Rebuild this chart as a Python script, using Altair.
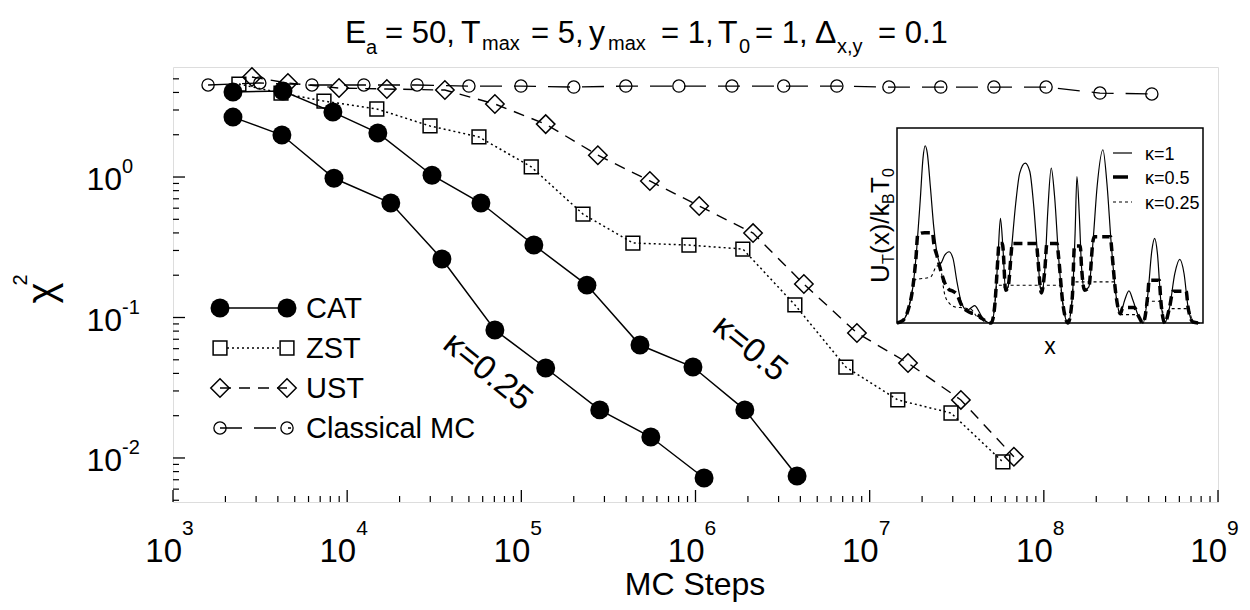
import altair as alt
import pandas as pd

# ---------------- main data ----------------
cat025_x = [2210, 4220, 8400, 17800, 35000, 70500, 138000, 282000, 554000, 1120000]
cat025_y = [2.67, 1.99, 0.98, 0.653, 0.261, 0.0815, 0.0437, 0.0220, 0.0141, 0.0072]
cat05_x = [2210, 4280, 8280, 15000, 30700, 58600, 118000, 238000, 480000, 967000, 1920000, 3830000]
cat05_y = [4.03, 4.09, 2.90, 2.06, 1.03, 0.653, 0.328, 0.170, 0.0637, 0.0444, 0.0220, 0.00745]
zst_x = [2390, 4170, 7360, 14800, 29900, 57100, 114000, 226000, 437000, 917000,
         1870000, 3720000, 7300000, 14500000, 29300000, 58200000]
zst_y = [4.59, 3.96, 3.47, 3.05, 2.31, 1.93, 1.18, 0.545, 0.339, 0.328,
         0.307, 0.123, 0.0444, 0.0259, 0.0209, 0.00937]
ust_x = [2840, 4570, 8980, 16900, 36400, 70500, 138000, 275000, 547000, 1050000,
         2140000, 4190000, 8450000, 16600000, 33400000, 67300000]
ust_y = [5.15, 4.67, 4.30, 4.23, 4.16, 3.31, 2.38, 1.43, 0.937, 0.622,
         0.399, 0.173, 0.0776, 0.0474, 0.0259, 0.0102]
mc_x = [1590, 3150, 6280, 12470, 25200, 50000, 99500, 200000, 398000, 803000,
        1620000, 3210000, 6480000, 12900000, 25600000, 51700000, 103000000, 210000000, 417000000]
mc_y = [4.52, 4.67, 4.52, 4.52, 4.52, 4.44, 4.44, 4.37, 4.44, 4.44,
        4.44, 4.44, 4.44, 4.37, 4.37, 4.37, 4.37, 3.96, 3.90]

x_major = [1e3, 1e4, 1e5, 1e6, 1e7, 1e8, 1e9]
x_exp = ["3", "4", "5", "6", "7", "8", "9"]
y_major = [1.0, 0.1, 0.01]
y_exp = ["0", "-1", "-2"]
x_minor = [k * 10.0 ** e for e in range(3, 9) for k in range(2, 10)]
y_minor = [k * 10.0 ** e for e in range(-3, 1) for k in range(2, 10) if 0.0049 < k * 10.0 ** e < 6.0]

kappa_labels = ["κ=0.25", "κ=0.5"]
kappa_lab_x = [64000, 2050000]
kappa_lab_y = [0.041, 0.060]

# ---------------- inset data (arbitrary units) ----------------
k1_x = [0, 0.20, 0.36, 0.52, 0.65, 0.76, 0.85, 0.92, 0.99, 1.09, 1.20, 1.31, 1.42, 1.56, 1.70, 1.83,
        1.96, 2.10, 2.29, 2.43, 2.54, 2.67, 2.83, 3.08, 3.19, 3.30, 3.38, 3.46, 3.55, 3.63, 3.74, 3.88,
        4.01, 4.19, 4.34, 4.47, 4.59, 4.72, 4.83, 4.93, 5.04, 5.15, 5.28, 5.42, 5.59, 5.73, 5.82, 5.88,
        5.96, 6.03, 6.13, 6.27, 6.41, 6.54, 6.73, 6.86, 7.00, 7.15, 7.30, 7.44, 7.58, 7.71, 7.88, 8.04,
        8.20, 8.33, 8.42, 8.51, 8.62, 8.75, 8.91, 9.08, 9.24, 9.38, 9.51, 9.67, 9.89]
k1_u = [0, 0.08, 0.38, 1.08, 2.28, 3.68, 4.93, 5.30, 5.08, 4.08, 2.88, 2.08, 1.78, 2.03, 2.13, 1.93,
        1.23, 0.63, 0.38, 0.46, 0.52, 0.36, 0.10, 0, 0.48, 1.98, 3.13, 2.28, 0.98, 1.08, 2.18, 3.58,
        4.48, 4.78, 4.53, 3.48, 2.08, 0.90, 1.58, 3.38, 4.63, 3.78, 1.98, 0.58, 0, 0.78, 2.68, 4.38,
        3.18, 1.68, 0.98, 1.08, 2.48, 4.08, 5.18, 4.18, 2.38, 0.88, 0.28, 0.68, 0.96, 0.68, 0.23, 0,
        0.88, 2.18, 2.53, 2.08, 0.68, 0, 0.48, 1.48, 1.90, 1.48, 0.48, 0.03, 0]
k05_x = [0, 0.20, 0.36, 0.52, 0.62, 0.68, 0.90, 1.16, 1.20, 1.31, 1.42, 1.56, 1.70, 1.83, 1.96, 2.10,
         2.29, 2.43, 2.54, 2.67, 2.83, 3.08, 3.19, 3.30, 3.33, 3.44, 3.46, 3.55, 3.63, 3.74, 3.76, 4.56,
         4.59, 4.72, 4.83, 4.90, 5.23, 5.28, 5.42, 5.59, 5.73, 5.80, 5.99, 6.03, 6.13, 6.27, 6.41, 6.45,
         6.98, 7.00, 7.15, 7.30, 7.38, 7.76, 7.88, 8.04, 8.20, 8.24, 8.57, 8.62, 8.75, 8.91, 9.02, 9.45,
         9.51, 9.67, 9.89]
k05_u = [0, 0.08, 0.38, 1.08, 1.95, 2.65, 2.70, 2.70, 2.40, 2.00, 1.60, 1.20, 1.00, 0.95, 0.85, 0.55,
         0.36, 0.30, 0.28, 0.22, 0.10, 0, 0.48, 1.98, 2.38, 2.38, 2.28, 0.98, 1.08, 2.18, 2.38, 2.38,
         2.08, 0.90, 1.58, 2.38, 2.38, 1.98, 0.58, 0, 0.78, 2.30, 2.30, 1.68, 0.98, 1.08, 2.48, 2.58,
         2.58, 2.38, 0.88, 0.28, 0.46, 0.46, 0.23, 0, 0.88, 1.28, 1.28, 0.68, 0, 0.48, 0.95, 0.95,
         0.48, 0.03, 0]
k025_x = [0, 0.20, 0.36, 0.52, 0.56, 1.10, 1.30, 1.42, 1.48, 1.56, 1.70, 1.90, 2.20, 2.43, 2.60, 2.83,
          3.08, 3.19, 3.26, 3.47, 3.55, 3.63, 3.65, 4.66, 4.72, 4.80, 5.33, 5.42, 5.59, 5.73, 5.77, 7.10,
          7.15, 7.30, 7.75, 7.88, 8.04, 8.17, 8.60, 8.68, 8.75, 8.91, 9.52, 9.67, 9.89]
k025_u = [0, 0.08, 0.38, 1.08, 1.28, 1.38, 1.70, 1.72, 1.30, 0.85, 0.60, 0.48, 0.45, 0.40, 0.20, 0.08,
          0, 0.48, 1.13, 1.13, 0.98, 1.08, 1.13, 1.13, 0.90, 1.13, 1.13, 0.58, 0, 0.78, 1.23, 1.23,
          0.88, 0.25, 0.25, 0.20, 0, 0.65, 0.65, 0.35, 0, 0.43, 0.43, 0.03, 0]
inset_legend = ["κ=1", "κ=0.5", "κ=0.25"]

# ---------------- styling ----------------
REG = "Liberation Sans, Arial, Helvetica, sans-serif"
W, H = 1045, 435
XS = alt.Scale(type="log", domain=[1e3, 1e9])
YS = alt.Scale(type="log", domain=[0.00486, 6.07])
IXS = alt.Scale(domain=[0, 10], range=[724, 1030])
IYS = alt.Scale(domain=[0, 5.83], range=[256, 61])
ONE = alt.Data(values=[{"a": 1}])


def ser(xs, ys, **extra):
    d = pd.DataFrame({"x": xs, "y": ys})
    for k, v in extra.items():
        d[k] = v
    return d


def txt(s, x, y, size, angle=0, align="left", baseline="alphabetic"):
    return alt.Chart(ONE).mark_text(text=s, font=REG, fontSize=size, angle=angle, align=align,
                                    baseline=baseline, color="black").encode(x=alt.value(x), y=alt.value(y))


cat = pd.concat([ser(cat025_x, cat025_y, k="0.25"), ser(cat05_x, cat05_y, k="0.5")])
zst = ser(zst_x, zst_y)
ust = ser(ust_x, ust_y)
mc = ser(mc_x, mc_y)

ex = alt.X("x:Q", scale=XS, axis=None)
ey = alt.Y("y:Q", scale=YS, axis=None)

layers = []
layers.append(alt.Chart(mc).mark_line(color="black", strokeWidth=1.3, strokeDash=[22, 12]).encode(x=ex, y=ey))
layers.append(alt.Chart(mc).mark_point(shape="circle", size=150, color="black", strokeWidth=1.3, opacity=1).encode(x=ex, y=ey))
layers.append(alt.Chart(ust).mark_line(color="black", strokeWidth=1.4, strokeDash=[11, 8]).encode(x=ex, y=ey))
layers.append(alt.Chart(ust).mark_point(shape="diamond", size=340, color="black", strokeWidth=1.5, opacity=1).encode(x=ex, y=ey))
layers.append(alt.Chart(zst).mark_line(color="black", strokeWidth=1.5, strokeDash=[2, 3]).encode(x=ex, y=ey))
layers.append(alt.Chart(zst).mark_point(shape="square", size=190, color="black", strokeWidth=1.5, opacity=1).encode(x=ex, y=ey))
layers.append(alt.Chart(cat).mark_line(color="black", strokeWidth=1.5).encode(x=ex, y=ey, detail="k:N"))
layers.append(alt.Chart(cat).mark_point(shape="circle", size=360, filled=True, color="black", opacity=1).encode(x=ex, y=ey))

# kappa annotations
kl = pd.DataFrame({"x": kappa_lab_x, "y": kappa_lab_y, "t": kappa_labels})
layers.append(alt.Chart(kl).mark_text(font=REG, fontSize=34, angle=39, align="center", baseline="middle", color="black")
              .encode(x=ex, y=ey, text="t:N"))

# inward ticks
xmaj = pd.DataFrame({"x": x_major, "e": x_exp})
xmin = pd.DataFrame({"x": x_minor})
ymaj = pd.DataFrame({"y": y_major, "e": y_exp})
ymin = pd.DataFrame({"y": y_minor})
layers.append(alt.Chart(xmaj).mark_rule(color="black", strokeWidth=1.3).encode(x=ex, y=alt.value(H), y2=alt.value(H - 12)))
layers.append(alt.Chart(xmin).mark_rule(color="black", strokeWidth=1.2).encode(x=ex, y=alt.value(H), y2=alt.value(H - 6)))
layers.append(alt.Chart(ymaj).mark_rule(color="black", strokeWidth=1.3).encode(y=ey, x=alt.value(0), x2=alt.value(12)))
layers.append(alt.Chart(ymin).mark_rule(color="black", strokeWidth=1.2).encode(y=ey, x=alt.value(0), x2=alt.value(6)))

# tick labels 10^n
layers.append(alt.Chart(xmaj).mark_text(text="10", font=REG, fontSize=33, align="right", dx=9, color="black")
              .encode(x=ex, y=alt.value(485)))
layers.append(alt.Chart(xmaj).mark_text(font=REG, fontSize=21, align="left", dx=9, color="black")
              .encode(x=ex, y=alt.value(462), text="e:N"))
layers.append(alt.Chart(ymaj).mark_text(text="10", font=REG, fontSize=32, align="right", dy=3, color="black")
              .encode(y=ey, x=alt.value(-51)))
layers.append(alt.Chart(ymaj).mark_text(font=REG, fontSize=20, align="left", dy=-10, color="black")
              .encode(y=ey, x=alt.value(-51), text="e:N"))

# axis titles
layers.append(txt("MC Steps", 522, 528, 32, align="center"))
layers.append(txt("χ", -130, 226, 40, angle=270, align="center", baseline="middle"))
layers.append(txt("2", -152, 213, 20, angle=270, align="center", baseline="middle"))

# title with subscripts
title_parts = [("E", 172, -24, 32), ("a", 193, -13, 20), ("= 50,", 212, -24, 31),
               ("T", 288, -24, 32), ("max", 309, -17, 20), ("= 5,", 358, -24, 31),
               ("y", 416, -24, 32), ("max", 435, -17, 20), ("= 1,", 488, -24, 31),
               ("T", 545, -24, 32), ("0", 566, -14, 20), ("= 1,", 582, -24, 31),
               ("Δ", 642, -24, 32), ("x,y", 664, -14, 20), ("= 0.1", 705, -24, 31)]
for s, x, y, fs in title_parts:
    layers.append(txt(s, x, y, fs))

# legend
rows = [("CAT", 241), ("ZST", 281), ("UST", 321), ("Classical MC", 361)]
LX1, LX2, TX = 47, 114, 133
layers.append(alt.Chart(ONE).mark_rule(color="black", strokeWidth=1.5).encode(x=alt.value(LX1), x2=alt.value(LX2), y=alt.value(241)))
for xx in (LX1, LX2):
    layers.append(alt.Chart(ONE).mark_point(shape="circle", size=360, filled=True, color="black", opacity=1).encode(x=alt.value(xx), y=alt.value(241)))
layers.append(alt.Chart(ONE).mark_rule(color="black", strokeWidth=1.5, strokeDash=[2, 3]).encode(x=alt.value(LX1 + 7), x2=alt.value(LX2 - 7), y=alt.value(281)))
for xx in (LX1, LX2):
    layers.append(alt.Chart(ONE).mark_point(shape="square", size=190, color="black", strokeWidth=1.5, opacity=1).encode(x=alt.value(xx), y=alt.value(281)))
layers.append(alt.Chart(ONE).mark_rule(color="black", strokeWidth=1.4, strokeDash=[11, 8]).encode(x=alt.value(LX1), x2=alt.value(LX2), y=alt.value(321)))
for xx in (LX1, LX2):
    layers.append(alt.Chart(ONE).mark_point(shape="diamond", size=340, color="black", strokeWidth=1.5, opacity=1).encode(x=alt.value(xx), y=alt.value(321)))
layers.append(alt.Chart(ONE).mark_rule(color="black", strokeWidth=1.3, strokeDash=[22, 12]).encode(x=alt.value(LX1), x2=alt.value(LX2 + 4), y=alt.value(361)))
for xx in (LX1, LX2):
    layers.append(alt.Chart(ONE).mark_point(shape="circle", size=150, color="black", strokeWidth=1.3, opacity=1).encode(x=alt.value(xx), y=alt.value(361)))
for s, yy in rows:
    layers.append(txt(s, TX, yy + 10, 29))

# inset axis labels (outside the inset box)
layers.append(txt("x", 877, 287, 23, align="center"))
lab_parts = [("U", 216, 716, 26), ("T", 197, 721, 16), ("(x)/k", 187, 716, 26),
             ("B", 137, 721, 16), ("T", 126, 716, 26), ("0", 110, 721, 16)]
for s, yy, xx, fs in lab_parts:
    layers.append(txt(s, xx, yy, fs, angle=270))

main = alt.layer(*layers)

# ---------------- inset (own scales, drawn into a sub-range) ----------------
ix = alt.X("x:Q", scale=IXS, axis=None)
iy = alt.Y("u:Q", scale=IYS, axis=None)
frame = pd.DataFrame({"x": [0.0], "x2": [10.0], "u": [0.0], "u2": [5.83]})
inset = alt.layer(
    alt.Chart(frame).mark_rect(fill="white", stroke="black", strokeWidth=1.5).encode(
        x=ix, x2="x2:Q", y=iy, y2="u2:Q"),
    alt.Chart(pd.DataFrame({"x": k025_x, "u": k025_u})).mark_line(
        color="black", strokeWidth=1.1, strokeDash=[3, 3], interpolate="monotone").encode(x=ix, y=iy),
    alt.Chart(pd.DataFrame({"x": k05_x, "u": k05_u})).mark_line(
        color="black", strokeWidth=3.5, strokeDash=[9, 5], interpolate="monotone").encode(x=ix, y=iy),
    alt.Chart(pd.DataFrame({"x": k1_x, "u": k1_u})).mark_line(
        color="black", strokeWidth=1.2, interpolate="monotone").encode(x=ix, y=iy),
)

# inset legend (drawn on top of the inset)
il_y = [86, 110, 135]
ov = [
    alt.Chart(ONE).mark_rule(color="black", strokeWidth=1.2).encode(x=alt.value(940), x2=alt.value(959), y=alt.value(il_y[0])),
    alt.Chart(ONE).mark_rule(color="black", strokeWidth=3.5).encode(x=alt.value(940), x2=alt.value(955), y=alt.value(il_y[1])),
    alt.Chart(ONE).mark_rule(color="black", strokeWidth=1.1, strokeDash=[3, 3]).encode(x=alt.value(940), x2=alt.value(959), y=alt.value(il_y[2])),
]
for s, yy in zip(inset_legend, il_y):
    ov.append(txt(s, 972, yy + 7, 18))
overlay = alt.layer(*ov)

chart = alt.layer(main, inset, overlay).resolve_scale(x="independent", y="independent").properties(
    width=W, height=H,
    autosize=alt.AutoSizeParams(type="none"),
    padding={"left": 165, "top": 59, "right": 24, "bottom": 100},
).configure_view(stroke="black", strokeWidth=1.5).configure(background="white")

chart.save("out.html", embed_options={"renderer": "svg", "actions": False})
